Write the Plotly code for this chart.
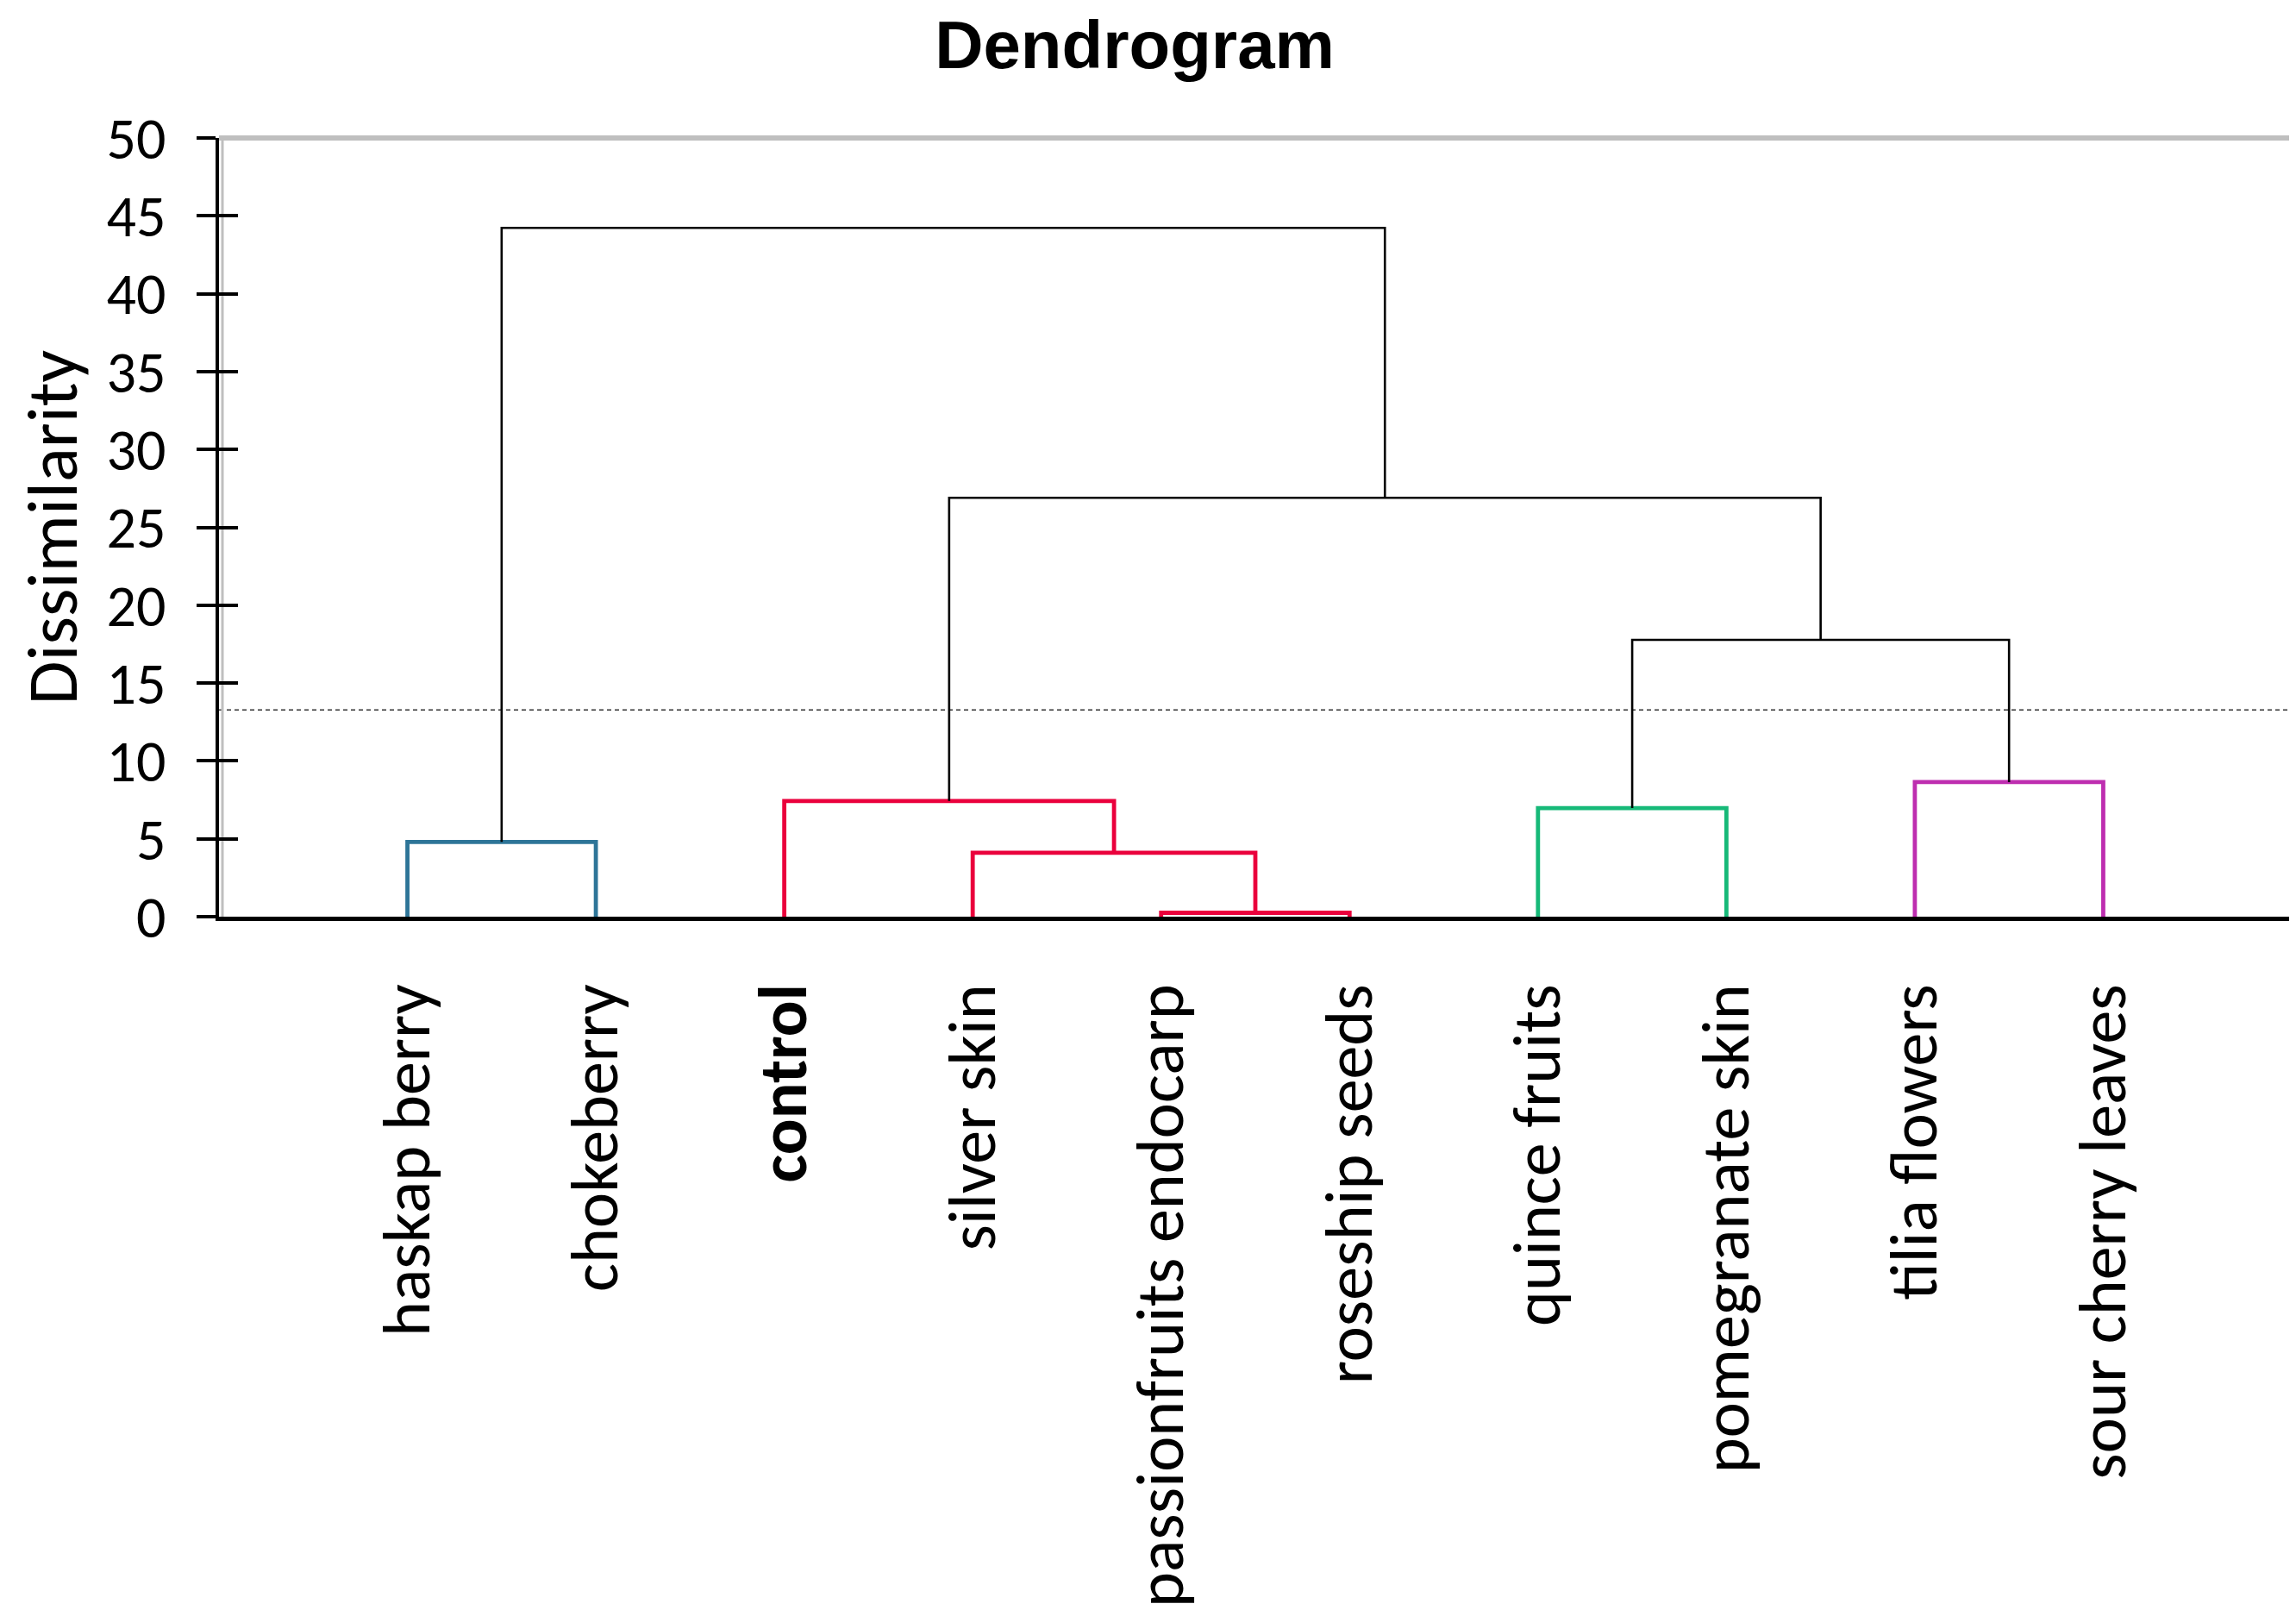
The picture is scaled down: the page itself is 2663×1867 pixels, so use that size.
import plotly.graph_objects as go

# ---------------- data ----------------
leaf_labels = ["haskap berry", "chokeberry", "<b>control</b>", "silver skin",
               "passionfruits endocarp", "roseship seeds", "quince fruits",
               "pomegranate skin", "tilia flowers", "sour cherry leaves"]

# merges: node index 10.. created in order; children refer to leaves (0-9) or earlier nodes
merge_left = [4, 3, 0, 6, 2, 8, 13, 14, 12]
merge_right = [5, 10, 1, 7, 11, 9, 15, 16, 17]
merge_height = [0.25, 4.1, 4.8, 6.97, 7.43, 8.64, 17.77, 26.9, 44.23]
merge_color = ["#EA003C", "#EA003C", "#2E7598", "#16B978", "#EA003C",
               "#BE2EB0", "#000000", "#000000", "#000000"]

cut_level = 13.28
y_ticks = [0, 5, 10, 15, 20, 25, 30, 35, 40, 45, 50]

# ---------------- build dendrogram ----------------
n_leaves = len(leaf_labels)
node_x = [i + 1 for i in range(n_leaves)]
node_h = [0.0] * n_leaves

fig = go.Figure()
for l, r, h, c in zip(merge_left, merge_right, merge_height, merge_color):
    xl, xr = node_x[l], node_x[r]
    hl, hr = node_h[l], node_h[r]
    width = 2.6 if c == "#000000" else 4.8
    fig.add_trace(go.Scatter(
        x=[xl, xl, xr, xr], y=[hl, h, h, hr], mode="lines",
        line=dict(color=c, width=width), hoverinfo="skip", showlegend=False,
        cliponaxis=False))
    node_x.append((xl + xr) / 2)
    node_h.append(h)

# invisible trace for the overlaid inside-tick axis
fig.add_trace(go.Scatter(x=[None], y=[None], yaxis="y2", showlegend=False))

font_main = "Carlito, Lato, 'Open Sans', sans-serif"
plot_w = 2655 - 246 - 5

fig.update_layout(
    width=2655, height=1859, autosize=False,
    paper_bgcolor="white", plot_bgcolor="white",
    margin=dict(l=246, r=5, t=152, b=804, autoexpand=False),
    title=dict(text="<b>Dendrogram</b>", x=1308 / 2655, xanchor="center",
               y=1 - 16 / 1859, yanchor="top", xref="container", yref="container",
               font=dict(family="'Liberation Sans', Arial, sans-serif", size=78, color="black")),
    xaxis=dict(range=[0, 11], tickvals=list(range(1, n_leaves + 1)), ticktext=leaf_labels,
               tickangle=-90, ticks="", showgrid=False, zeroline=False,
               showline=True, linecolor="black", linewidth=5, automargin=False,
               tickfont=dict(family=font_main, size=78, color="black"),
               ticklabelstandoff=42),
    yaxis=dict(range=[0, 50], tickvals=y_ticks, ticks="outside", ticklen=22, tickwidth=4,
               tickcolor="black", showgrid=False, zeroline=False,
               showline=True, linecolor="black", linewidth=4, automargin=False,
               tickfont=dict(family=font_main, size=68, color="black"),
               ticklabelstandoff=22),
    yaxis2=dict(range=[0, 50], tickvals=y_ticks, overlaying="y", side="left",
                ticks="inside", ticklen=22, tickwidth=4, tickcolor="black",
                showticklabels=False, showgrid=False, zeroline=False, showline=False,
                automargin=False),
    annotations=[
        dict(text="Dissimilarity", xref="paper", yref="paper", x=(52 - 246) / plot_w, y=0.5,
             xanchor="center", yanchor="middle", textangle=-90, showarrow=False,
             font=dict(family=font_main, size=83, color="black")),
    ],
    shapes=[
        # cut line
        dict(type="line", xref="x domain", yref="y", x0=0, x1=1, y0=cut_level, y1=cut_level,
             line=dict(color="#333333", width=1.5, dash="5px,4px"), layer="below"),
        # gray frame top and right
        dict(type="line", xref="x domain", yref="y domain", x0=0, x1=1, y0=1, y1=1,
             line=dict(color="#BFBFBF", width=6)),
        dict(type="line", xref="x domain", yref="y domain", x0=1, x1=1, y0=0, y1=1,
             line=dict(color="#BFBFBF", width=6)),
        # shadow under bottom axis
        dict(type="line", xref="x domain", yref="y", ysizemode="pixel", yanchor=0,
             x0=0, x1=1, y0=-6, y1=-6, line=dict(color="#BFBFBF", width=3)),
        # shadow right of left axis
        dict(type="line", xref="x", yref="y domain", xsizemode="pixel", xanchor=0,
             x0=4, x1=4, y0=0, y1=1, line=dict(color="#BFBFBF", width=3), layer="below"),
    ],
)

fig.write_html("out.html")
